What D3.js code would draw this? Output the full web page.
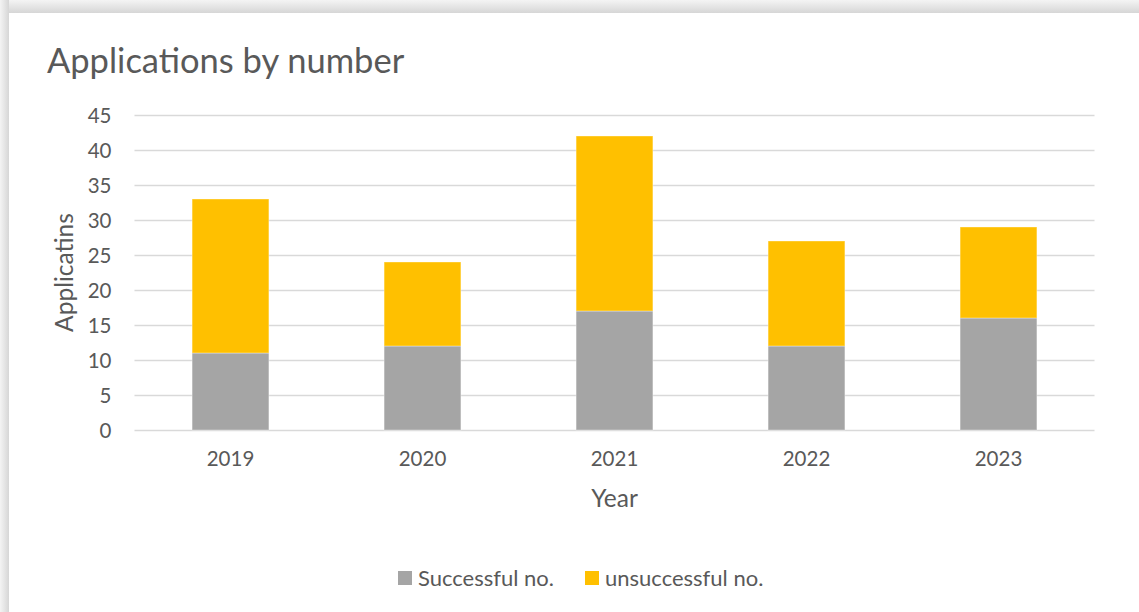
<!DOCTYPE html>
<html>
<head>
<meta charset="utf-8">
<script src="https://cdn.jsdelivr.net/npm/d3@7"></script>
<style>
  html, body { margin: 0; padding: 0; background: #fff; }
  svg { display: block; }
  text { font-family: Lato, "Open Sans", sans-serif; fill: #595959; }
</style>
</head>
<body>
<svg id="chart" width="1139" height="612"></svg>
<script>
// Applications per year, split by outcome
const years = ["2019", "2020", "2021", "2022", "2023"];
const successful = [11, 12, 17, 12, 16];
const unsuccessful = [22, 12, 25, 15, 13];
const yTicks = [0, 5, 10, 15, 20, 25, 30, 35, 40, 45];
const seriesNames = ["Successful no.", "unsuccessful no."];
const seriesColors = ["#a5a5a5", "#ffc000"];

const svg = d3.select("#chart");
const W = 1139, H = 612;

// chart frame with soft shadow along top and left edges
const defs = svg.append("defs");
const gTop = defs.append("linearGradient").attr("id", "shTop").attr("x1", 0).attr("y1", 0).attr("x2", 0).attr("y2", 1);
gTop.append("stop").attr("offset", 0).attr("stop-color", "#f4f4f4");
gTop.append("stop").attr("offset", 1).attr("stop-color", "#d6d6d6");
const gLeft = defs.append("linearGradient").attr("id", "shLeft").attr("x1", 0).attr("y1", 0).attr("x2", 1).attr("y2", 0);
gLeft.append("stop").attr("offset", 0).attr("stop-color", "#f4f4f4");
gLeft.append("stop").attr("offset", 1).attr("stop-color", "#d6d6d6");
svg.append("rect").attr("x", 0).attr("y", 0).attr("width", W).attr("height", 13).attr("fill", "url(#shTop)");
svg.append("rect").attr("x", 0).attr("y", 0).attr("width", 9).attr("height", H).attr("fill", "url(#shLeft)");
svg.append("rect").attr("x", 9).attr("y", 13).attr("width", W - 9).attr("height", H - 13).attr("fill", "#fff");

const plot = { left: 134.5, right: 1094.5, top: 115, bottom: 430 };

const x = d3.scaleBand().domain(years).range([plot.left, plot.right]).paddingInner(0.6).paddingOuter(0.3);
const y = d3.scaleLinear().domain([0, 45]).range([plot.bottom, plot.top]);

// gridlines
svg.append("g").selectAll("line").data(yTicks).join("line")
  .attr("x1", plot.left).attr("x2", plot.right)
  .attr("y1", d => Math.round(y(d)) + 0.5).attr("y2", d => Math.round(y(d)) + 0.5)
  .attr("stroke", "#d9d9d9").attr("stroke-width", 1.5);

// stacked bars
const rows = years.map((yr, i) => ({ year: yr, s: successful[i], u: unsuccessful[i] }));
const stack = d3.stack().keys(["s", "u"])(rows);
svg.append("g").selectAll("g").data(stack).join("g")
  .attr("fill", (d, i) => seriesColors[i])
  .selectAll("rect").data(d => d).join("rect")
  .attr("x", d => x(d.data.year))
  .attr("width", x.bandwidth())
  .attr("y", d => y(d[1]))
  .attr("height", d => y(d[0]) - y(d[1]))
  .attr("stroke", "#fff").attr("stroke-opacity", 0.35).attr("stroke-width", 1);

// y axis labels
const yAxis = d3.axisLeft(y).tickValues(yTicks).tickSize(0).tickPadding(0);
const ya = svg.append("g").attr("transform", `translate(${plot.left - 23},0)`).call(yAxis);
ya.select(".domain").remove();
ya.selectAll("text").style("font-size", "20.5px").style("font-family", "Lato, sans-serif").attr("fill", "#595959").attr("dy", "0.35em");

// x axis labels
const xAxis = d3.axisBottom(x).tickSize(0).tickPadding(0);
const xa = svg.append("g").attr("transform", `translate(0,${plot.bottom + 21})`).call(xAxis);
xa.select(".domain").remove();
xa.selectAll("text").style("font-size", "20.5px").style("font-family", "Lato, sans-serif").attr("fill", "#595959").attr("dy", "0.71em");

// title
svg.append("text").attr("x", 47).attr("y", 73).style("font-size", "34.5px").text("Applications by number");

// axis titles
svg.append("text").attr("transform", `translate(73,${(plot.top + plot.bottom) / 2}) rotate(-90)`)
  .attr("text-anchor", "middle").style("font-size", "24.5px").text("Applicatins");
svg.append("text").attr("x", (plot.left + plot.right) / 2).attr("y", 507)
  .attr("text-anchor", "middle").style("font-size", "24.5px").text("Year");

// legend
const legendX = [398, 585];
const lg = svg.append("g").selectAll("g").data(seriesNames).join("g")
  .attr("transform", (d, i) => `translate(${legendX[i]},571)`);
lg.append("rect").attr("width", 14).attr("height", 14).attr("fill", (d, i) => seriesColors[i]);
lg.append("text").attr("x", 20).attr("y", 15).style("font-size", "22px").text(d => d);
</script>
</body>
</html>
